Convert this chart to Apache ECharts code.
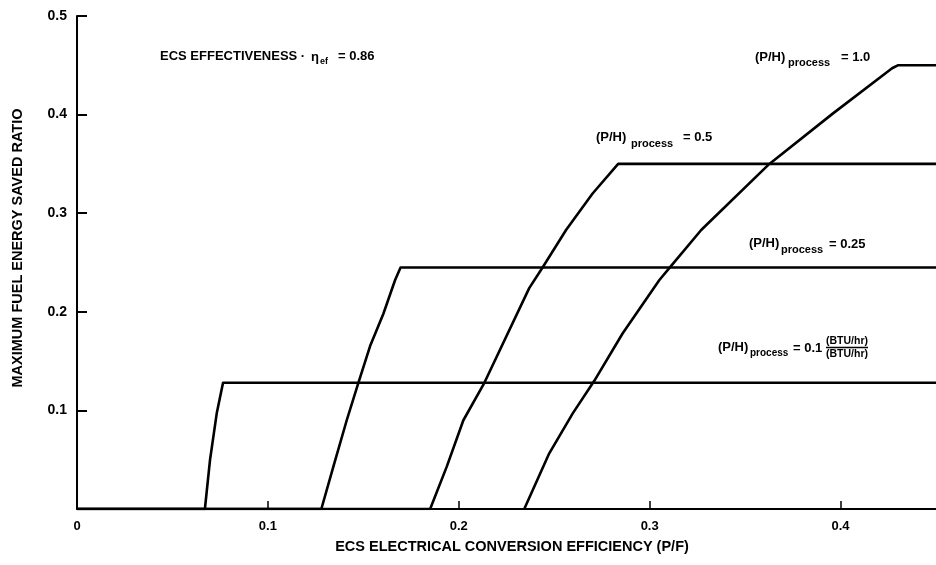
<!DOCTYPE html>
<html><head><meta charset="utf-8">
<script src="https://cdn.jsdelivr.net/npm/echarts@6/dist/echarts.min.js"></script>
<style>html,body{margin:0;padding:0;background:#fff}#c{width:936px;height:565px}</style>
</head><body><div id="c"></div>
<script>
// (P/H)process curves: [ECS electrical conversion efficiency, max fuel energy saved ratio]
const ph01 = [[0,0],[0.067,0],[0.0697,0.05],[0.0732,0.097],[0.0765,0.128],[0.45,0.128]];
const ph025 = [[0,0],[0.128,0],[0.1343,0.043],[0.1413,0.09],[0.1474,0.128],[0.1535,0.165],[0.1605,0.198],[0.1666,0.232],[0.1695,0.245],[0.45,0.245]];
const ph05 = [[0,0],[0.185,0],[0.1937,0.043],[0.2024,0.09],[0.2134,0.128],[0.2369,0.224],[0.2439,0.245],[0.2562,0.283],[0.2701,0.32],[0.2835,0.35],[0.45,0.35]];
const ph10 = [[0.2343,0],[0.2474,0.0565],[0.2597,0.097],[0.271,0.13],[0.2858,0.178],[0.305,0.232],[0.3106,0.245],[0.327,0.283],[0.3627,0.35],[0.3959,0.401],[0.427,0.447],[0.43,0.45],[0.45,0.45]];
const seriesNames = ['(P/H)process = 0.1','(P/H)process = 0.25','(P/H)process = 0.5','(P/H)process = 1.0'];
const xAxisTitle = 'ECS ELECTRICAL CONVERSION EFFICIENCY (P/F)';
const yAxisTitle = 'MAXIMUM FUEL ENERGY SAVED RATIO';

const FF = '"Liberation Sans", Arial, sans-serif';
function T(text, x, y, size, align) {
  return { type: 'text', x: x, y: y, silent: true,
    style: { text: text, font: 'bold ' + size + 'px ' + FF, fill: '#000',
      align: align || 'left', verticalAlign: 'middle',
      textAlign: align || 'left', textVerticalAlign: 'middle' } };
}
const graphics = [
  T('ECS EFFECTIVENESS ·', 160, 56, 13), T('η', 311, 57, 13), T('ef', 320, 62, 9), T('= 0.86', 338, 56, 13),
  T('(P/H)', 755, 57, 13), T('process', 788, 63, 11), T('= 1.0', 841, 57, 13),
  T('(P/H)', 596, 137, 13), T('process', 631, 144, 11), T('= 0.5', 683, 137, 13),
  T('(P/H)', 749, 243, 13), T('process', 781, 250, 11), T('= 0.25', 829, 244, 13),
  T('(P/H)', 718, 347, 13), T('process', 750, 353, 10), T('= 0.1', 793, 348, 13),
  T('(BTU/hr)', 847, 341, 10.5, 'center'), T('(BTU/hr)', 847, 354, 10.5, 'center'),
  { type: 'line', silent: true, shape: { x1: 826, y1: 347.5, x2: 868, y2: 347.5 }, style: { stroke: '#000', lineWidth: 1.5 } },
  T(xAxisTitle, 512, 547, 14.5, 'center'),
  { type: 'text', x: 18, y: 248, rotation: Math.PI / 2, silent: true,
    style: { text: yAxisTitle, font: 'bold 14.5px ' + FF, fill: '#000', align: 'center', verticalAlign: 'middle', textAlign: 'center', textVerticalAlign: 'middle' } }
];

const chart = echarts.init(document.getElementById('c'), null, { renderer: 'canvas' });
const mk = (name, data) => ({ name: name, type: 'line', data: data, showSymbol: false, symbol: 'none',
  smooth: false, lineStyle: { color: '#000', width: 2.6, join: 'round' }, itemStyle: { color: '#000' }, animation: false, clip: true });
chart.setOption({
  animation: false,
  backgroundColor: '#fff',
  grid: { left: 77, right: 0, top: 16, bottom: 56, containLabel: false, outerBoundsMode: 'none' },
  xAxis: { type: 'value', min: 0, max: 0.45, interval: 0.1,
    axisLine: { show: true, lineStyle: { color: '#000', width: 2 } },
    axisTick: { show: true, inside: true, length: 8, lineStyle: { color: '#000', width: 1.5 } },
    axisLabel: { show: true, margin: 11, showMaxLabel: false, color: '#000', fontWeight: 'bold', fontSize: 13, fontFamily: FF,
      formatter: v => v === 0 ? '0' : v.toFixed(1) },
    splitLine: { show: false } },
  yAxis: { type: 'value', min: 0, max: 0.5, interval: 0.1,
    axisLine: { show: true, lineStyle: { color: '#000', width: 2 } },
    axisTick: { show: true, inside: true, length: 10, lineStyle: { color: '#000', width: 2 } },
    axisLabel: { show: true, margin: 10, showMinLabel: false, color: '#000', fontWeight: 'bold', fontSize: 14, fontFamily: FF,
      formatter: v => v.toFixed(1) },
    splitLine: { show: false } },
  series: [mk(seriesNames[0], ph01), mk(seriesNames[1], ph025), mk(seriesNames[2], ph05), mk(seriesNames[3], ph10)],
  graphic: graphics
});
</script></body></html>
